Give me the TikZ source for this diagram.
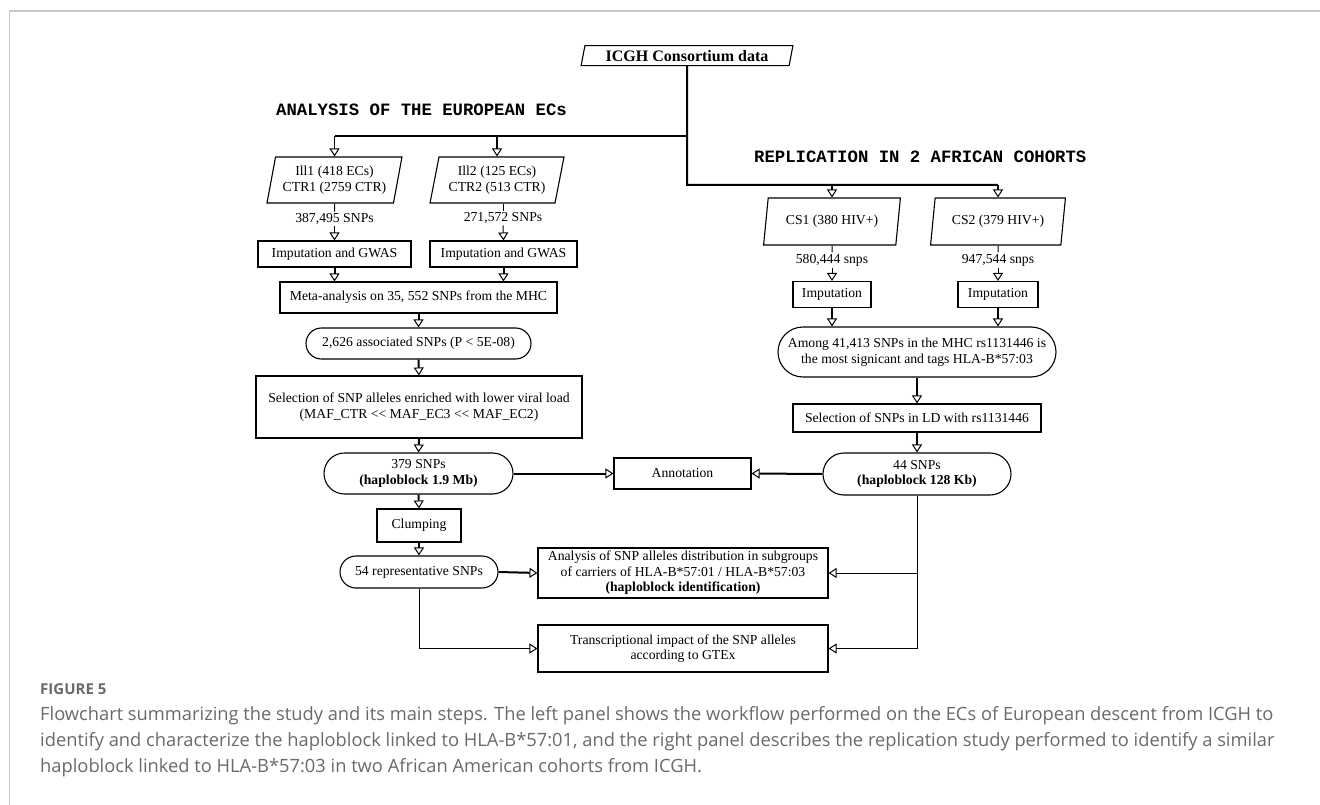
\documentclass[tikz,border=0pt]{standalone}
\usepackage{fontspec}
\setmainfont{Liberation Serif}
\newfontfamily\titlefont{Liberation Mono}
\newfontfamily\capfont{Open Sans}
\usetikzlibrary{arrows.meta,shapes.geometric,shapes.misc}
\definecolor{capgray}{HTML}{6A6A6A}
\definecolor{framegray}{HTML}{C8C8C8}
\tikzset{
 nf/.style={font=\fontsize{13.7}{15.5}\selectfont},
 box/.style={draw, line width=1.1pt, rectangle, inner sep=0pt, align=center, nf},
 rbox/.style={draw, line width=1.1pt, rounded rectangle, inner sep=0pt, align=center, nf},
 para/.style={draw, line width=1.1pt, trapezium, trapezium left angle=75, trapezium right angle=105, trapezium stretches=true, inner sep=0pt, align=center, nf},
 lab/.style={inner sep=1.5pt, nf},
 thk/.style={line width=2pt, -{Triangle[open,length=8pt,width=10pt,line width=1pt]}},
 mid/.style={line width=1.5pt, -{Triangle[open,length=8pt,width=10pt,line width=1pt]}},
 thn/.style={line width=1pt, -{Triangle[open,length=8pt,width=10pt,line width=1pt]}},
 plain/.style={line width=1pt},
 main/.style={line width=2pt},
 ttl/.style={anchor=west, inner sep=0pt, font=\titlefont\fontsize{17.3}{20}\selectfont\bfseries},
 captext/.style={anchor=west, inner sep=0pt, text=capgray, font=\capfont\fontsize{18.3}{22}\selectfont},
}
\begin{document}
\begin{tikzpicture}[x=1pt,y=-1pt]
\useasboundingbox (0,0) rectangle (1320,805);
\fill[white] (0,0) rectangle (1320,805);
\draw[framegray, line width=1.5pt] (9.5,805) -- (9.5,11) -- (1320,11);

% top
\node[para, minimum width=212pt, minimum height=20pt, font=\fontsize{16}{18}\selectfont\bfseries] (icgh) at (687,55.7) {ICGH Consortium data};
\node[ttl] (t1) at (276,110) {ANALYSIS OF THE EUROPEAN ECs};
\node[ttl] (t2) at (754,157) {REPLICATION IN 2 AFRICAN COHORTS};

% left column
\node[para, minimum width=135pt, minimum height=46pt] (ill1) at (334.5,180) {Ill1 (418 ECs)\\CTR1 (2759 CTR)};
\node[para, minimum width=134pt, minimum height=46pt] (ill2) at (497,180) {Ill2 (125 ECs)\\CTR2 (513 CTR)};
\node[lab] (l1) at (334.5,219) {387,495 SNPs};
\node[lab] (l2) at (503,218) {271,572 SNPs};
\node[box, minimum width=153pt, minimum height=26pt] (imp1) at (334.5,254) {Imputation and GWAS};
\node[box, minimum width=147pt, minimum height=26pt] (imp2) at (503.5,254) {Imputation and GWAS};
\node[box, minimum width=277pt, minimum height=31pt] (meta) at (418.5,297.5) {Meta-analysis on 35, 552 SNPs from the MHC};
\node[rbox, minimum width=225pt, minimum height=31pt] (assoc) at (418.5,343.5) {2,626 associated SNPs (P {<} 5E-08)};
\node[box, minimum width=326pt, minimum height=62pt] (sel) at (419,407) {Selection of SNP alleles enriched with lower viral load\\(MAF\_CTR {<}{<} MAF\_EC3 {<}{<} MAF\_EC2)};
\node[rbox, minimum width=189pt, minimum height=41pt] (s379) at (418.5,473.5) {379 SNPs\\\textbf{(haploblock 1.9 Mb)}};
\node[box, minimum width=84pt, minimum height=33pt] (clump) at (419,525.5) {Clumping};
\node[rbox, minimum width=158pt, minimum height=32pt] (s54) at (419,572) {54 representative SNPs};

% middle
\node[box, minimum width=137pt, minimum height=31pt] (annot) at (682.5,473.5) {Annotation};
\node[box, minimum width=290pt, minimum height=50pt] (anal) at (683,573) {Analysis of SNP alleles distribution in subgroups\\of carriers of HLA-B*57:01 / HLA-B*57:03\\\textbf{(haploblock identification)}};
\node[box, minimum width=290pt, minimum height=47pt] (trans) at (683,648.5) {Transcriptional impact of the SNP alleles\\according to GTEx};

% right column
\node[para, minimum width=137pt, minimum height=47pt] (cs1) at (832,221.5) {CS1 (380 HIV+)};
\node[para, minimum width=135pt, minimum height=47pt] (cs2) at (998,221.5) {CS2 (379 HIV+)};
\node[lab] (l3) at (832,260) {580,444 snps};
\node[lab] (l4) at (998,260) {947,544 snps};
\node[box, minimum width=78pt, minimum height=26pt] (impA) at (832,294.5) {Imputation};
\node[box, minimum width=80pt, minimum height=26pt] (impB) at (998,294.5) {Imputation};
\node[rbox, minimum width=278pt, minimum height=50pt] (among) at (917,352) {Among 41,413 SNPs in the MHC rs1131446 is\\the most signicant and tags HLA-B*57:03};
\node[box, minimum width=248pt, minimum height=28pt] (selLD) at (917,418) {Selection of SNPs in LD with rs1131446};
\node[rbox, minimum width=188pt, minimum height=42pt] (s44) at (917,474) {44 SNPs\\\textbf{(haploblock 128 Kb)}};

% top connectors
\coordinate (jl) at (687,136);
\coordinate (jr) at (687,185);
\draw[main] (icgh.south) -- (jr) -- (jr -| cs2.north);
\draw[main] (jl) -- (jl -| ill1.north);
\draw[mid] (jl -| ill1.north) -- (ill1.north);
\draw[mid] (jl -| ill2.north) -- (ill2.north);
\draw[mid] (jr -| cs1.north) -- (cs1.north);
\draw[mid] (jr -| cs2.north) -- (cs2.north);

% left flow
\draw[plain] (ill1.south) -- (l1.north);
\draw[thn] (l1.south) -- (imp1.north);
\draw[plain] (l2.north |- ill2.south) -- (l2.north);
\draw[thn] (l2.south) -- (imp2.north);
\draw[thk] (imp1.south) -- (imp1.south |- meta.north);
\draw[thk] (imp2.south) -- (imp2.south |- meta.north);
\draw[thk] (meta.south) -- (assoc.north);
\draw[thk] (assoc.south) -- (sel.north);
\draw[thk] (sel.south) -- (s379.north);
\draw[thk] (s379.south) -- (clump.north);
\draw[thk] (clump.south) -- (s54.north);
\draw[thk] (s379.east) -- (annot.west);
\draw[thk] (s54.east) -- (anal.west);
\draw[thn] (s54.south) |- (trans.west);

% right flow
\draw[plain] (cs1.south) -- (l3.north);
\draw[thn] (l3.south) -- (impA.north);
\draw[plain] (cs2.south) -- (l4.north);
\draw[thn] (l4.south) -- (impB.north);
\draw[thk] (impA.south) -- (impA.south |- among.north);
\draw[thk] (impB.south) -- (impB.south |- among.north);
\draw[thk] (among.south) -- (selLD.north);
\draw[thk] (selLD.south) -- (s44.north);
\draw[thk] (s44.west) -- (annot.east);
\draw[thn] (s44.south) |- (trans.east);
\draw[thn] (s44.south |- anal.east) -- (anal.east);

% caption
\node[anchor=west, inner sep=0pt, text=capgray, font=\capfont\fontsize{15}{17}\selectfont\bfseries] (fig) at (40,689) {FIGURE 5};
\node[captext] (c1) at (40,716) {Flowchart summarizing the study and its main steps. The left panel shows the workflow performed on the ECs of European descent from ICGH to};
\node[captext] (c2) at (40,742) {identify and characterize the haploblock linked to HLA-B*57:01, and the right panel describes the replication study performed to identify a similar};
\node[captext] (c3) at (40,768) {haploblock linked to HLA-B*57:03 in two African American cohorts from ICGH.};
\end{tikzpicture}
\end{document}
